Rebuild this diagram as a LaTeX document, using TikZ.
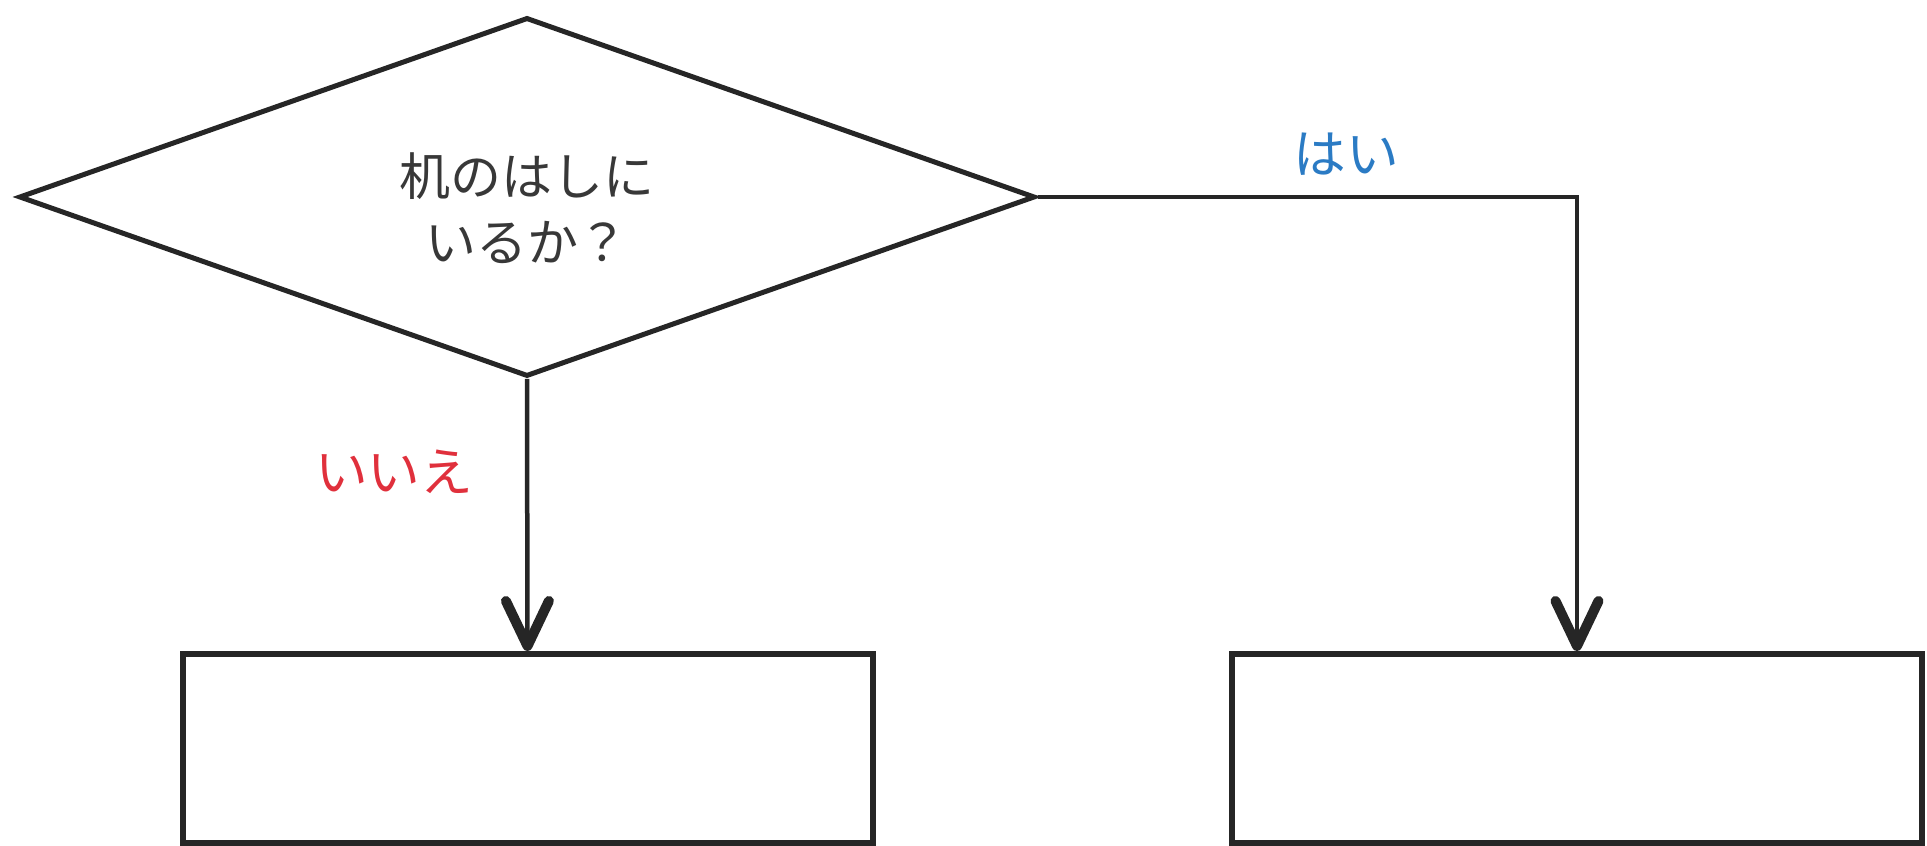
\documentclass[tikz,border=0pt]{standalone}
\usepackage{fontspec}
\newfontfamily\jp{Noto Sans CJK JP}
\usepackage{tikz}
\usetikzlibrary{positioning}
\usetikzlibrary{shapes.geometric}
\usetikzlibrary {arrows.meta}
\usepackage{xcolor}
\definecolor{ink}{HTML}{383838}
\definecolor{nored}{HTML}{E0303C}
\definecolor{yesblue}{HTML}{2B7BC4}

\begin{document}
\begin{tikzpicture}[
		q/.style = {diamond, draw=black!85, line width=0.5mm, minimum width=10.16cm, minimum height=3.59cm, inner sep=0pt},
		b/.style = {rectangle, draw=black!85, line width=0.6mm, minimum width=6.9cm, minimum height=1.89cm},
		r/.style = {-{Straight Barb[length=4.5mm, width=4.3mm, line width=1mm, round]}, draw=black!85, line width=0.45mm},
		lbl/.style = {font=\jp\fontsize{15}{16}\selectfont}
		]
		\useasboundingbox (0, 0) rectangle (19.27, 8.46);
		
		%Nodes
		\node[q]	(q)		at	(5.27, 6.49)	{};
		\node[text=ink, align=center, font=\jp\fontsize{14.5}{18.7}\selectfont]	(qtext)	at	(5.27, 6.38)	{机のはしに\\いるか？};
		\node[b]	(no)	at	(5.275, 0.975)	{};
		\node[b]	(yes)	at	(15.77, 0.975)	{};
		
		%Lines
		\draw[r]	(q.south)	to	node[lbl, text=nored, pos=0.34, left=4mm]	{いいえ}	(no.north);
		\draw[r]	(q.east)	-|	node[lbl, text=yesblue, pos=0.286, above=0.8mm]	{はい}	(yes.north);
	\end{tikzpicture}
\end{document}
